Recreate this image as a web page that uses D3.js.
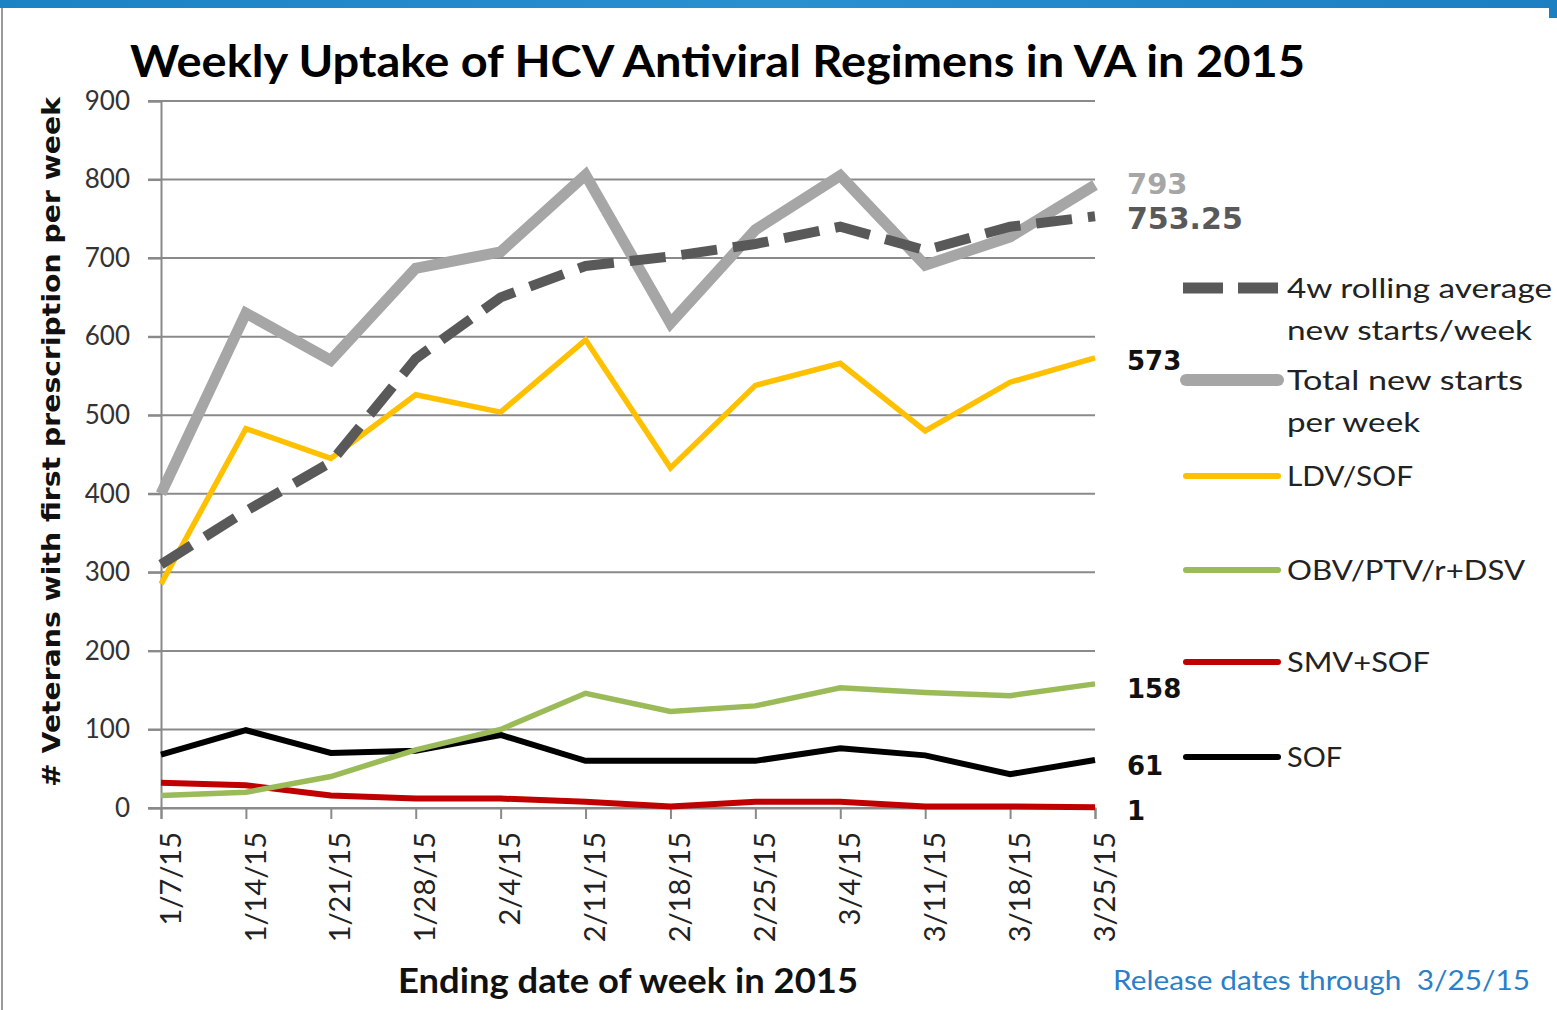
<!DOCTYPE html>
<html><head><meta charset="utf-8">
<script src="https://cdn.jsdelivr.net/npm/d3@7"></script>
<style>body{margin:0;background:#fff;overflow:hidden}</style>
</head><body>
<svg id="chart" width="1557" height="1010"></svg>
<script>
const dates = ["1/7/15","1/14/15","1/21/15","1/28/15","2/4/15","2/11/15","2/18/15","2/25/15","3/4/15","3/11/15","3/18/15","3/25/15"];
const rolling = [310,378,440,572,650,690,702,718,740,710,740,753.25];
const total   = [400,630,570,687,708,806,617,736,805,691,727,793];
const ldvSof  = [285,483,445,526,504,596,433,538,566,480,542,573];
const obv     = [16,20,40,74,100,146,123,130,153,147,143,158];
const smvSof  = [32,29,16,12,12,8,2,8,8,2,2,1];
const sof     = [68,99,70,73,93,60,60,60,76,67,43,61];
const yTicks  = [0,100,200,300,400,500,600,700,800,900];

const series = [
  {name:["4w rolling average","new starts/week"], nameW:[265,245], values:rolling, color:"#595959", width:10, dash:"36,16", label:"753.25", lblColor:"#595959", lblSize:30, lblY:229, legY:288},
  {name:["Total new starts","per week"], nameW:[236,133], values:total, color:"#a6a6a6", width:11, dash:null, label:"793", lblColor:"#a6a6a6", lblSize:29, lblY:194, legY:380},
  {name:["LDV/SOF"], nameW:[126], values:ldvSof, color:"#ffc000", width:5.5, dash:null, label:"573", lblColor:"#111", lblSize:26, lblY:370, legY:476},
  {name:["OBV/PTV/r+DSV"], nameW:[238], values:obv, color:"#9bbb59", width:5.5, dash:null, label:"158", lblColor:"#111", lblSize:26, lblY:698, legY:570},
  {name:["SMV+SOF"], nameW:[143], values:smvSof, color:"#c00000", width:6, dash:null, label:"1", lblColor:"#111", lblSize:26, lblY:820, legY:662},
  {name:["SOF"], nameW:[55], values:sof, color:"#000000", width:6, dash:null, label:"61", lblColor:"#111", lblSize:26, lblY:775, legY:757}
];
const drawOrder = [4,5,3,2,1,0];

const svg = d3.select("#chart");
svg.append("rect").attr("x",0).attr("y",0).attr("width",1557).attr("height",1010).attr("fill","#fff");
const grad = svg.append("defs").append("linearGradient").attr("id","bg").attr("x1",0).attr("x2",1);
grad.append("stop").attr("offset",0).attr("stop-color","#1b82c4");
grad.append("stop").attr("offset",0.5).attr("stop-color","#2a90d0");
grad.append("stop").attr("offset",1).attr("stop-color","#1b7fc2");
svg.append("rect").attr("x",0).attr("y",0).attr("width",1557).attr("height",8).attr("fill","url(#bg)");
svg.append("rect").attr("x",1549).attr("y",0).attr("width",8).attr("height",18).attr("fill","#1b7fc2");
svg.append("line").attr("x1",2).attr("x2",2).attr("y1",8).attr("y2",1010).attr("stroke","#9a9a9a").attr("stroke-width",2);

const x = d3.scalePoint().domain(dates).range([161,1095]);
const y = d3.scaleLinear().domain([0,900]).range([808,101]);

svg.append("g").selectAll("line").data(yTicks).join("line")
  .attr("x1",148).attr("x2",1095).attr("y1",d=>y(d)).attr("y2",d=>y(d))
  .attr("stroke","#8a8a8a").attr("stroke-width",2);
const yAxis = svg.append("g").attr("transform","translate(161,0)")
  .call(d3.axisLeft(y).tickValues(yTicks).tickSize(13).tickPadding(18));
yAxis.select(".domain").attr("stroke","#8a8a8a").attr("stroke-width",2);
yAxis.selectAll(".tick line").attr("stroke","#8a8a8a").attr("stroke-width",2);
yAxis.selectAll("text").attr("font-family","Lato, sans-serif").attr("font-size",26).attr("fill","#333");

const xAxis = svg.append("g").attr("transform","translate(0,808)")
  .call(d3.axisBottom(x).tickSize(11).tickPadding(0));
xAxis.select(".domain").attr("stroke","#8a8a8a").attr("stroke-width",2);
xAxis.selectAll(".tick line").attr("stroke","#8a8a8a").attr("stroke-width",2);
xAxis.selectAll("text")
  .attr("font-family","Lato, sans-serif").attr("font-size",29).attr("fill","#222")
  .attr("text-anchor","end").attr("transform","translate(9,24) rotate(-90)")
  .attr("x",0).attr("y",0).attr("dy","0.35em");

const line = d3.line().x((d,i)=>x(dates[i])).y(d=>y(d));
drawOrder.forEach(k=>{
  const s = series[k];
  const p = svg.append("path").datum(s.values).attr("d",line)
    .attr("fill","none").attr("stroke",s.color).attr("stroke-width",s.width)
    .attr("stroke-linejoin","miter").attr("stroke-linecap","butt");
  if(s.dash) p.attr("stroke-dasharray",s.dash);
});

series.forEach(s=>{
  svg.append("text").attr("x",1127).attr("y",s.lblY).text(s.label)
    .attr("font-family","DejaVu Sans, Verdana, sans-serif").attr("font-weight","bold")
    .attr("font-size",s.lblSize).attr("fill",s.lblColor);
});

series.forEach(s=>{
  const g = svg.append("g");
  const ln = g.append("line").attr("x1",1186).attr("x2",1278).attr("y1",s.legY).attr("y2",s.legY)
    .attr("stroke",s.color).attr("stroke-width",s.dash?11:(s.width>8?12:6)).attr("stroke-linecap",s.dash?"butt":"round");
  if(s.dash) ln.attr("stroke-dasharray","40,15").attr("x1",1183).attr("x2",1280);
  s.name.forEach((t,j)=>{
    g.append("text").attr("x",1287).attr("y",s.legY+10+j*42).text(t)
      .attr("font-family","Lato, sans-serif").attr("font-size",26)
      .attr("textLength",s.nameW[j]).attr("lengthAdjust","spacingAndGlyphs").attr("fill","#222");
  });
});

svg.append("text").attr("x",130).attr("y",77).text("Weekly Uptake of HCV Antiviral Regimens in VA in 2015")
  .attr("font-family","Lato, sans-serif").attr("font-weight","bold").attr("font-size",44)
  .attr("textLength",1175).attr("lengthAdjust","spacingAndGlyphs").attr("fill","#000");
svg.append("text").attr("transform","translate(60,787) rotate(-90)").text("# Veterans with first prescription per week")
  .attr("font-family","DejaVu Sans, Verdana, sans-serif").attr("font-weight","bold").attr("font-size",25)
  .attr("textLength",690).attr("lengthAdjust","spacingAndGlyphs").attr("fill","#111");
svg.append("text").attr("x",398).attr("y",993).text("Ending date of week in 2015")
  .attr("font-family","Lato, sans-serif").attr("font-weight","bold").attr("font-size",34)
  .attr("textLength",460).attr("lengthAdjust","spacingAndGlyphs").attr("fill","#111");
svg.append("text").attr("x",1113).attr("y",990).text("Release dates through  3/25/15")
  .attr("font-family","Lato, sans-serif").attr("font-size",27).attr("xml:space","preserve")
  .attr("textLength",417).attr("lengthAdjust","spacingAndGlyphs").attr("fill","#2a7fc8");
</script>
</body></html>
